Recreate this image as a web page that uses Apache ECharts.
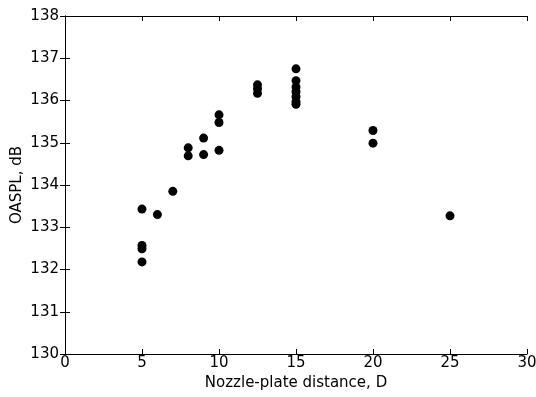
<!DOCTYPE html>
<html><head><meta charset="utf-8">
<script src="https://cdn.jsdelivr.net/npm/echarts@6/dist/echarts.min.js"></script>
<style>html,body{margin:0;padding:0;background:#fff}#c{width:536px;height:397px}</style>
</head><body><div id="c"></div>
<script>
const distances = [5,5,5,5,6,7,8,8,9,9,10,10,10,12.5,12.5,12.5,15,15,15,15,15,15,15,20,20,25];
const oaspl = [133.43,132.57,132.49,132.18,133.30,133.85,134.88,134.69,135.11,134.72,135.66,135.48,134.82,136.37,136.28,136.17,136.75,136.47,136.32,136.21,136.09,135.97,135.91,135.29,134.99,133.27];
const xTicks = [0,5,10,15,20,25,30];
const yTicks = [130,131,132,133,134,135,136,137,138];
const points = distances.map((d,i)=>[d,oaspl[i]]);
const font = 'DejaVu Sans';
const fs = 15;
const chart = echarts.init(document.getElementById('c'));
const axisLine = {show:true, lineStyle:{color:'#000', width:1}};
const tick = {show:true, inside:true, length:5, lineStyle:{color:'#000'}};
chart.setOption({
  animation:false,
  grid:{left:65, right:9, top:16, bottom:43, containLabel:false, outerBoundsMode:'none'},
  xAxis:[
    {type:'value', min:xTicks[0], max:xTicks[xTicks.length-1], interval:5, position:'bottom',
     name:'Nozzle-plate distance, D', nameLocation:'middle', nameGap:22, nameMoveOverlap:false,
     nameTextStyle:{fontFamily:font, fontSize:fs, color:'#000'},
     axisLine, axisTick:tick, splitLine:{show:false},
     axisLabel:{fontFamily:font, fontSize:fs, color:'#000', margin:2}},
    {type:'value', min:xTicks[0], max:xTicks[xTicks.length-1], interval:5, position:'top',
     axisLine, axisTick:tick, splitLine:{show:false}, axisLabel:{show:false}}
  ],
  yAxis:[
    {type:'value', min:yTicks[0], max:yTicks[yTicks.length-1], interval:1, position:'left',
     name:'OASPL, dB', nameLocation:'middle', nameGap:40, nameMoveOverlap:false,
     nameTextStyle:{fontFamily:font, fontSize:fs, color:'#000'},
     axisLine, axisTick:tick, splitLine:{show:false},
     axisLabel:{fontFamily:font, fontSize:fs, color:'#000', margin:6}},
    {type:'value', min:yTicks[0], max:yTicks[yTicks.length-1], interval:1, position:'right',
     axisLine, axisTick:tick, splitLine:{show:false}, axisLabel:{show:false}}
  ],
  series:[{type:'scatter', data:points, symbolSize:9, itemStyle:{color:'#000', opacity:1}}]
});
</script></body></html>
